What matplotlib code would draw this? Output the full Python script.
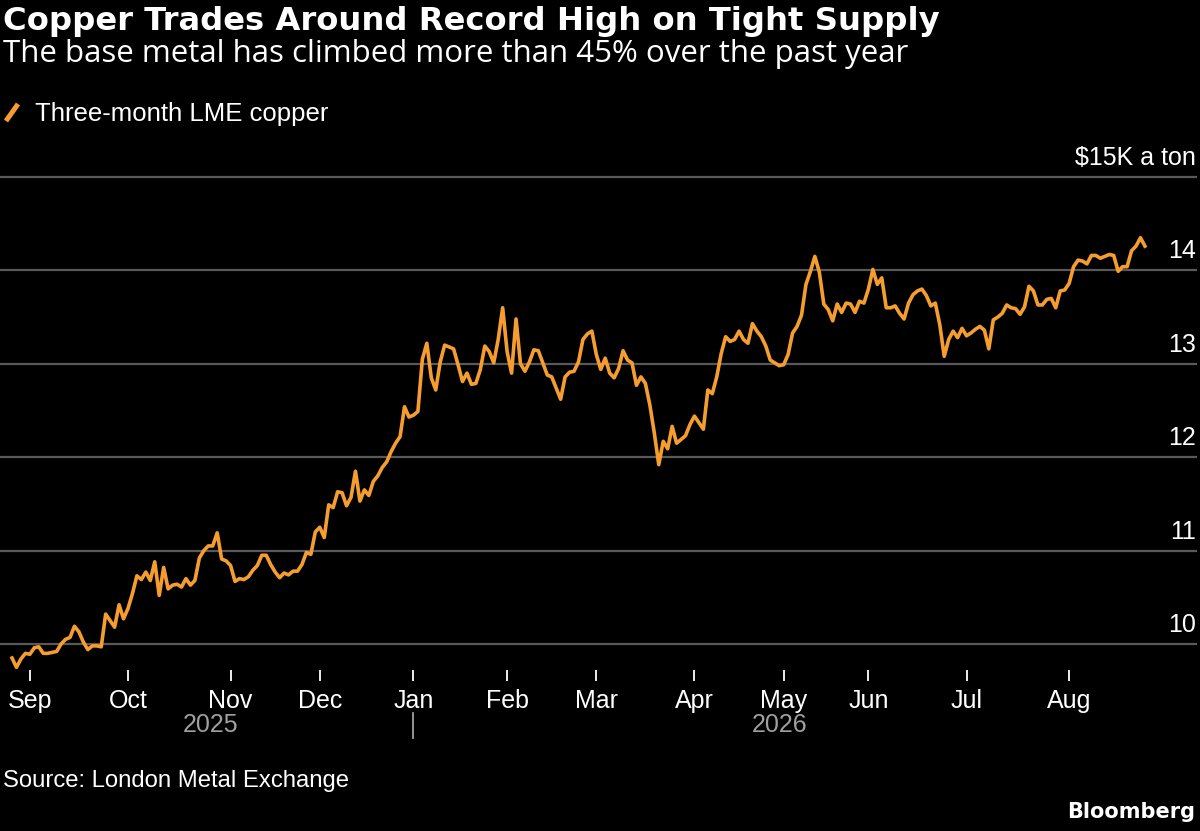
import numpy as np
import pandas as pd
import matplotlib
matplotlib.use("Agg")
import matplotlib.pyplot as plt
from matplotlib.lines import Line2D
from matplotlib.transforms import blended_transform_factory

# LME three-month copper, $K per ton, one value per trading day
start_day = "2025-08-26"
lme_holidays = ["2025-12-25", "2025-12-26", "2026-01-01", "2026-04-03",
                "2026-04-06", "2026-05-04", "2026-05-25"]

price_2025 = [9.85, 9.75, 9.84, 9.90, 9.89, 9.96, 9.97, 9.90, 9.90, 9.91,
              9.92, 10.00, 10.05, 10.07, 10.19, 10.13, 10.02, 9.94, 9.98, 9.98,
              9.97, 10.32, 10.25, 10.18, 10.42, 10.27, 10.38, 10.54, 10.73, 10.69,
              10.77, 10.68, 10.88, 10.52, 10.82, 10.59, 10.63, 10.64, 10.61, 10.70,
              10.63, 10.68, 10.92, 11.00, 11.05, 11.05, 11.19, 10.91, 10.89, 10.84,
              10.67, 10.70, 10.69, 10.72, 10.79, 10.84, 10.95, 10.95, 10.85, 10.77,
              10.71, 10.76, 10.74, 10.78, 10.78, 10.85, 10.98, 10.96, 11.20, 11.25,
              11.14, 11.49, 11.46, 11.63, 11.62, 11.48, 11.57, 11.85, 11.53, 11.65,
              11.59, 11.74, 11.80, 11.89, 11.95, 12.06, 12.15, 12.22, 12.54, 12.43]

price_2026 = [12.45, 12.49, 13.05, 13.22, 12.85, 12.72, 13.02, 13.20, 13.18, 13.16,
              12.99, 12.81, 12.90, 12.78, 12.79, 12.94, 13.19, 13.13, 13.01, 13.26,
              13.60, 13.13, 12.90, 13.48, 13.00, 12.92, 13.02, 13.15, 13.14, 13.01,
              12.88, 12.86, 12.74, 12.62, 12.86, 12.91, 12.92, 13.02, 13.26, 13.32,
              13.35, 13.10, 12.94, 13.06, 12.90, 12.85, 12.95, 13.14, 13.04, 13.01,
              12.77, 12.86, 12.79, 12.56, 12.26, 11.92, 12.17, 12.09, 12.33, 12.15,
              12.19, 12.23, 12.35, 12.44, 12.37, 12.30, 12.72, 12.68, 12.86, 13.11,
              13.29, 13.24, 13.26, 13.35, 13.26, 13.22, 13.43, 13.35, 13.29, 13.19,
              13.04, 13.01, 12.98, 12.99, 13.10, 13.33, 13.40, 13.52, 13.85, 13.99,
              14.15, 13.98, 13.64, 13.58, 13.46, 13.64, 13.55, 13.65, 13.64, 13.55,
              13.67, 13.65, 13.80, 14.01, 13.85, 13.92, 13.60, 13.60, 13.62, 13.54,
              13.48, 13.65, 13.74, 13.78, 13.80, 13.73, 13.62, 13.65, 13.42, 13.08,
              13.26, 13.35, 13.28, 13.38, 13.30, 13.33, 13.37, 13.40, 13.36, 13.16,
              13.47, 13.50, 13.54, 13.63, 13.60, 13.59, 13.53, 13.61, 13.83, 13.78,
              13.63, 13.63, 13.69, 13.70, 13.60, 13.78, 13.79, 13.86, 14.04, 14.11,
              14.10, 14.07, 14.16, 14.16, 14.13, 14.15, 14.17, 14.16, 13.99, 14.04,
              14.04, 14.21, 14.26, 14.35, 14.26]

y_ticks = [10, 11, 12, 13, 14, 15]
y_labels = ["10", "11", "12", "13", "14", "$15K a ton"]

ORANGE = "#f59e2f"
GRID = "#595959"
TITLE_FONT = ["DejaVu Sans"]
SUB_FONT = ["Open Sans", "DejaVu Sans"]
LABEL_FONT = ["Liberation Sans", "DejaVu Sans"]

prices = np.array(price_2025 + price_2026)
days = np.busday_offset(start_day, np.arange(len(prices)), roll="forward",
                        holidays=lme_holidays)
xs = np.arange(len(prices))

# month ticks at the first trading day of every full month
months = days.astype("datetime64[M]")
new_month = np.r_[True, months[1:] != months[:-1]]
tick_pos = xs[new_month][1:]
tick_lab = [pd.Timestamp(d).strftime("%b") for d in days[new_month][1:]]

W, H = 1200, 831
fig = plt.figure(figsize=(W / 100, H / 100), dpi=100, facecolor="black")


def fy(px):
    return 1 - px / H


# axes box: x from 0 to 1197 px, y from 170 to 670 px
ax = fig.add_axes([0, fy(670), 1197 / W, (670 - 170) / H], facecolor="black")
px_day = 4.455
ax.set_xlim(-12 / px_day, len(prices) - 1 + 52 / px_day)
ax.set_ylim(10 - 26 / 93.4, 15 + 7 / 93.4)

for v in y_ticks:
    ax.axhline(v, color=GRID, lw=1.6, zorder=1)
ax.plot(xs, prices, color=ORANGE, lw=2.6, zorder=3, clip_on=False,
        solid_joinstyle="round")

for spine in ax.spines.values():
    spine.set_visible(False)
ax.set_yticks([])
ax.set_xticks(tick_pos)
ax.set_xticklabels(tick_lab, family=LABEL_FONT, fontsize=18, color="white")
ax.tick_params(axis="x", colors="white", length=8, width=1.3, pad=6,
               labelcolor="white")

for v, lab in zip(y_ticks, y_labels):
    ax.annotate(lab, xy=(1, v), xycoords=ax.get_yaxis_transform(),
                xytext=(-1, 5), textcoords="offset points", ha="right",
                va="bottom", color="white", fontsize=18, family=LABEL_FONT)

# year labels under the months
years = days.astype("datetime64[Y]").astype(int) + 1970
trans = blended_transform_factory(ax.transData, fig.transFigure)
for yr in np.unique(years):
    idx = xs[years == yr]
    fig.text((idx[0] + idx[-1]) / 2, fy(725), str(yr), transform=trans,
             ha="center", va="center", color="#a0a0a0", fontsize=18,
             family=LABEL_FONT)
jan = xs[np.r_[False, years[1:] != years[:-1]]][0]
fig.add_artist(Line2D([jan, jan], [fy(713), fy(738)], transform=trans,
                      color="#a0a0a0", lw=1.3))

# header
fig.text(3 / W, fy(30), "Copper Trades Around Record High on Tight Supply",
         color="white", fontsize=23.2, fontweight="bold", family=TITLE_FONT,
         va="baseline")
fig.text(3 / W, fy(62), "The base metal has climbed more than 45% over the past year",
         color="white", fontsize=22.5, family=SUB_FONT, va="baseline")
fig.add_artist(Line2D([6 / W, 18 / W], [fy(121), fy(104)], color=ORANGE,
                      lw=3.6, solid_capstyle="butt"))
fig.text(35 / W, fy(121), "Three-month LME copper", color="white",
         fontsize=18.5, family=LABEL_FONT, va="baseline")

# footer
fig.text(3 / W, fy(781), "Source: London Metal Exchange", color="white",
         fontsize=17.2, family=LABEL_FONT, va="center")
fig.text(1195 / W, fy(812), "Bloomberg", color="white", fontsize=15,
         fontweight="bold", family=TITLE_FONT, ha="right", va="center")

fig.savefig("out.png", dpi=100, facecolor="black")
